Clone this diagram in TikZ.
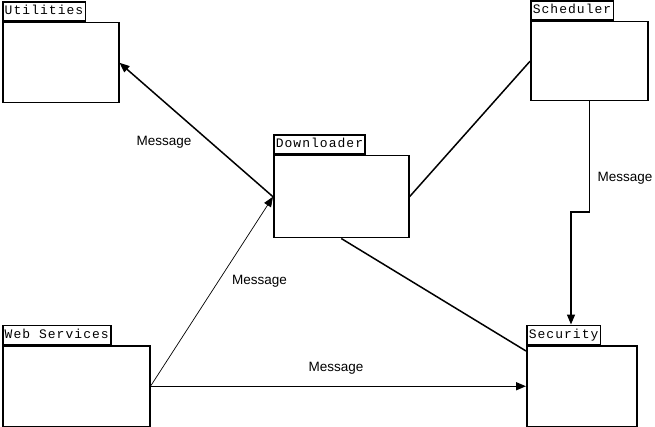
\documentclass[tikz,border=0pt]{standalone}
\usepackage{fontspec}
\setmainfont{Liberation Sans}
\newfontfamily\tabfont[LetterSpace=8]{Liberation Mono}
\usetikzlibrary{positioning,calc,arrows.meta}

\begin{document}
\begin{tikzpicture}[x=1pt,y=-1pt,
    pkg/.style={draw, line width=1.5pt, anchor=north west, inner sep=0pt},
    pkgtab/.style={draw, line width=1.5pt, anchor=south west, inner xsep=2pt, inner ysep=0pt,
        minimum height=19pt, text height=9pt, text depth=2.5pt, font=\tabfont\fontsize{13}{13}\selectfont},
    link/.style={line width=1.5pt},
    msg/.style={link, -{Triangle[length=10pt,width=8pt]}},
    lbl/.style={font=\fontsize{13.5}{14}\selectfont}]
    \useasboundingbox (0,0) rectangle (655,427);

    % packages
    \node[pkg, minimum width=116pt, minimum height=80pt] (util) at (2,22) {};
    \node[pkgtab] (utilTab) at (util.north west) {Utilities};
    \node[pkg, minimum width=135pt, minimum height=82pt] (dl) at (273,155) {};
    \node[pkgtab] (dlTab) at (dl.north west) {Downloader};
    \node[pkg, minimum width=117pt, minimum height=79pt] (sched) at (530,21) {};
    \node[pkgtab] (schedTab) at (sched.north west) {Scheduler};
    \node[pkg, minimum width=147pt, minimum height=81pt] (web) at (2,345) {};
    \node[pkgtab] (webTab) at (web.north west) {Web Services};
    \node[pkg, minimum width=110pt, minimum height=81pt] (sec) at (526,345) {};
    \node[pkgtab] (secTab) at (sec.north west) {Security};

    % messages
    \node[lbl] (m1) at (164,142) {Message};
    \node[lbl] (m2) at (259.5,281) {Message};
    \node[lbl] (m3) at (336,368) {Message};
    \node[lbl] (m4) at (625,178) {Message};

    \draw[msg] (dl.west) -- (util.east); % Downloader -> Utilities
    \draw[msg, line width=0.7pt] (web.east) -- (dl.west);
    \draw[msg] (web.east) -- (sec.west);
    \draw[link] (dl.east) -- (sched.west);
    \draw[link] (dl.south) -- ([yshift=-6pt]sec.north west);
    \coordinate (jog) at (571,212);
    \draw[msg] (sched.south) |- (jog) -- (jog |- secTab.north); % Scheduler -> Security
\end{tikzpicture}
\end{document}
